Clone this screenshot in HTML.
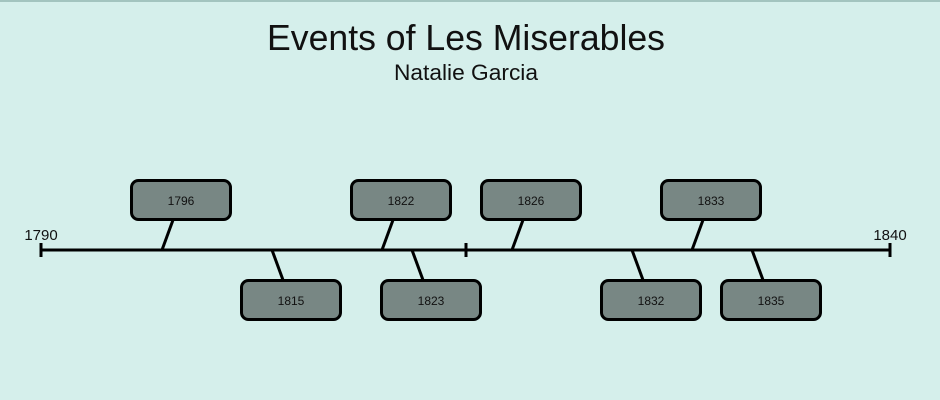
<!DOCTYPE html>
<html><head><meta charset="utf-8"><style>
html,body{margin:0;padding:0;background:#d5efeb;}
svg{display:block;}
</style></head><body>
<svg width="940" height="400" viewBox="0 0 940 400" xmlns="http://www.w3.org/2000/svg" font-family="Liberation Sans, DejaVu Sans, sans-serif">
<rect x="0" y="0" width="940" height="400" rx="8" fill="#d5efeb"/>
<rect x="0" y="0" width="940" height="2" fill="#a3c4bf"/>
<text x="466" y="50" font-size="36" text-anchor="middle" textLength="398" lengthAdjust="spacingAndGlyphs" fill="#111">Events of Les Miserables</text>
<text x="466" y="80" font-size="22" text-anchor="middle" textLength="144" lengthAdjust="spacingAndGlyphs" fill="#111">Natalie Garcia</text>
<g stroke="#000" stroke-width="3" stroke-linecap="butt">
<line x1="40" y1="250" x2="891" y2="250"/>
<line x1="41" y1="243" x2="41" y2="257"/>
<line x1="466" y1="243" x2="466" y2="257"/>
<line x1="890" y1="243" x2="890" y2="257"/>
<line x1="173" y1="220" x2="162" y2="250"/>
<line x1="393" y1="220" x2="382" y2="250"/>
<line x1="523" y1="220" x2="512" y2="250"/>
<line x1="703" y1="220" x2="692" y2="250"/>
<line x1="272" y1="250" x2="283" y2="280"/>
<line x1="412" y1="250" x2="423" y2="280"/>
<line x1="632" y1="250" x2="643" y2="280"/>
<line x1="752" y1="250" x2="763" y2="280"/>
</g>
<text x="41" y="240" font-size="15" text-anchor="middle" fill="#111">1790</text>
<text x="890" y="240" font-size="15" text-anchor="middle" fill="#111">1840</text>
<g fill="#788784" stroke="#000" stroke-width="3">
<rect x="131.5" y="180.5" width="99" height="39" rx="7"/>
<rect x="351.5" y="180.5" width="99" height="39" rx="7"/>
<rect x="481.5" y="180.5" width="99" height="39" rx="7"/>
<rect x="661.5" y="180.5" width="99" height="39" rx="7"/>
<rect x="241.5" y="280.5" width="99" height="39" rx="7"/>
<rect x="381.5" y="280.5" width="99" height="39" rx="7"/>
<rect x="601.5" y="280.5" width="99" height="39" rx="7"/>
<rect x="721.5" y="280.5" width="99" height="39" rx="7"/>
</g>
<g font-size="12" text-anchor="middle" fill="#111">
<text x="181" y="205">1796</text>
<text x="401" y="205">1822</text>
<text x="531" y="205">1826</text>
<text x="711" y="205">1833</text>
<text x="291" y="305">1815</text>
<text x="431" y="305">1823</text>
<text x="651" y="305">1832</text>
<text x="771" y="305">1835</text>
</g>
</svg>
</body></html>
